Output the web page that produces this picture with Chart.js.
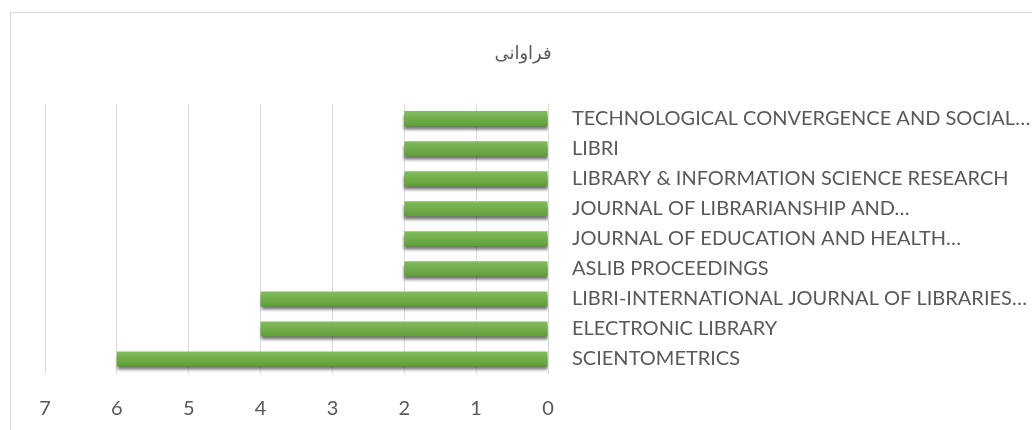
<!DOCTYPE html>
<html>
<head>
<meta charset="utf-8">
<script src="https://cdn.jsdelivr.net/npm/chart.js@4/dist/chart.umd.min.js"></script>
<style>
  html, body { margin: 0; padding: 0; background: #fff; overflow: hidden; }
  #box { position: absolute; left: 10px; top: 12px; width: 1040px; height: 440px; border: 1px solid #d9d9d9; }
  canvas { display: block; }
</style>
</head>
<body>
<div id="box"><canvas id="myChart" width="1024" height="417"></canvas></div>
<script>
// data
const journals = [
    'TECHNOLOGICAL CONVERGENCE AND SOCIAL…',
    'LIBRI',
    'LIBRARY & INFORMATION SCIENCE RESEARCH',
    'JOURNAL OF LIBRARIANSHIP AND…',
    'JOURNAL OF EDUCATION AND HEALTH…',
    'ASLIB PROCEEDINGS',
    'LIBRI-INTERNATIONAL JOURNAL OF LIBRARIES…',
    'ELECTRONIC LIBRARY',
    'SCIENTOMETRICS'
];
const frequency = [2, 2, 2, 2, 2, 2, 4, 4, 6];
const chartTitle = 'فراوانی';

const textColor = '#595959';
const fontFamily = "Lato, 'DejaVu Sans', sans-serif";

// drop shadow under the bars
const barShadow = {
    id: 'barShadow',
    beforeDatasetsDraw(chart) {
        const ctx = chart.ctx;
        ctx.save();
        ctx.shadowColor = 'rgba(0,0,0,0.55)';
        ctx.shadowBlur = 3;
        ctx.shadowOffsetX = 0;
        ctx.shadowOffsetY = 4;
    },
    afterDatasetsDraw(chart) {
        chart.ctx.restore();
    }
};

function barGradient(context) {
    const chart = context.chart;
    const yScale = chart.scales.y;
    if (!yScale) return '#70ad47';
    const y = yScale.getPixelForValue(context.dataIndex);
    if (!isFinite(y)) return '#70ad47';
    const g = chart.ctx.createLinearGradient(0, y - 7.5, 0, y + 7.5);
    g.addColorStop(0, '#82bd5e');
    g.addColorStop(1, '#5e9e36');
    return g;
}

new Chart(document.getElementById('myChart').getContext('2d'), {
    type: 'bar',
    data: {
        labels: journals,
        datasets: [{
            data: frequency,
            backgroundColor: barGradient,
            borderWidth: 0,
            barPercentage: 0.5,
            categoryPercentage: 1
        }]
    },
    plugins: [barShadow],
    options: {
        indexAxis: 'y',
        responsive: false,
        animation: false,
        layout: { padding: 0 },
        plugins: {
            legend: { display: false },
            tooltip: { enabled: false },
            title: {
                display: true,
                text: chartTitle,
                color: textColor,
                font: { family: fontFamily, size: 18, weight: 'normal' },
                padding: { top: 29, bottom: 40 }
            }
        },
        scales: {
            x: {
                reverse: true,
                min: 0,
                max: 7,
                ticks: { stepSize: 1, color: textColor, font: { family: fontFamily, size: 20 }, padding: 23 },
                grid: { color: '#d9d9d9', drawTicks: false },
                border: { display: false },
                afterFit: function(scale) {
                    scale.height = 56;
                    scale.paddingLeft = 34; // room on the left, title stays centred on the canvas
                }
            },
            y: {
                position: 'right',
                ticks: { color: textColor, font: { family: fontFamily, size: 20 }, padding: 24, crossAlign: 'near', autoSkip: false },
                grid: { display: false, drawTicks: false },
                border: { display: false },
                afterFit: function(scale) { scale.width = 487; }
            }
        }
    }
});
</script>
</body>
</html>
